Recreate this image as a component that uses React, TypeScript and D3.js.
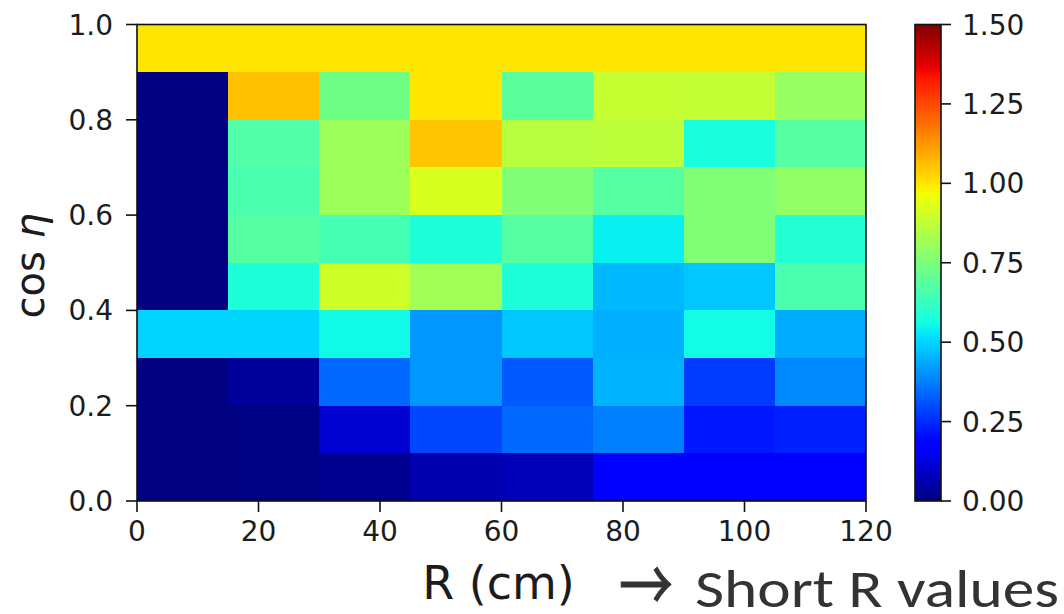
import React from "react";
import * as d3 from "d3";

// ---- data ----
const rEdges = [0, 15, 30, 45, 60, 75, 90, 105, 120];
const cosEdges = [0, 0.1, 0.2, 0.3, 0.4, 0.5, 0.6, 0.7, 0.8, 0.9, 1.0];
// rows from cos η = 0.0–0.1 (bottom) up to 0.9–1.0 (top)
const row0 = [0, 0.005, 0.02, 0.06, 0.075, 0.175, 0.175, 0.165];
const row1 = [0, 0.005, 0.105, 0.29, 0.34, 0.375, 0.22, 0.235];
const row2 = [0, 0.036, 0.34, 0.41, 0.32, 0.45, 0.275, 0.39];
const row3 = [0.5, 0.5, 0.555, 0.41, 0.48, 0.445, 0.56, 0.44];
const row4 = [0, 0.58, 0.9, 0.82, 0.58, 0.46, 0.48, 0.66];
const row5 = [0, 0.68, 0.65, 0.58, 0.68, 0.54, 0.76, 0.59];
const row6 = [0, 0.66, 0.81, 0.92, 0.76, 0.68, 0.76, 0.79];
const row7 = [0, 0.67, 0.81, 1.05, 0.86, 0.87, 0.57, 0.68];
const row8 = [0, 1.06, 0.73, 1.0, 0.69, 0.885, 0.88, 0.8];
const row9 = [1.0, 1.0, 1.0, 1.0, 1.0, 1.0, 1.0, 1.0];
const rows = [row0, row1, row2, row3, row4, row5, row6, row7, row8, row9];

const xTicks = [0, 20, 40, 60, 80, 100, 120];
const yTicks = [0.0, 0.2, 0.4, 0.6, 0.8, 1.0];
const cbTicks = [0.0, 0.25, 0.5, 0.75, 1.0, 1.25, 1.5];
const vMin = 0;
const vMax = 1.5;

// matplotlib "jet"
const jr = d3.scaleLinear().domain([0, 0.35, 0.66, 0.89, 1]).range([0, 0, 1, 1, 0.5]).clamp(true);
const jg = d3.scaleLinear().domain([0, 0.125, 0.375, 0.64, 0.91, 1]).range([0, 0, 1, 1, 0, 0]).clamp(true);
const jb = d3.scaleLinear().domain([0, 0.11, 0.34, 0.65, 1]).range([0.5, 1, 1, 0, 0]).clamp(true);
const jet = (t: number) =>
  d3.rgb(Math.round(jr(t) * 255), Math.round(jg(t) * 255), Math.round(jb(t) * 255)).formatHex();

export default function App() {
  const W = 1064, H = 614;
  const x = d3.scaleLinear().domain([0, 120]).range([137, 866]);
  const y = d3.scaleLinear().domain([0, 1]).range([501, 24.5]);
  const norm = d3.scaleLinear().domain([vMin, vMax]).range([0, 1]).clamp(true);
  const cbX0 = 915, cbX1 = 941;
  const cbY = d3.scaleLinear().domain([vMin, vMax]).range([501, 24.5]);
  const stops = d3.range(0, 1.0001, 0.01);
  const tickFont = "'DejaVu Sans', sans-serif";
  const tc = "#1c1c1c";

  return (
    <svg width={W} height={H} style={{ position: "absolute", left: 0, top: 0, background: "#fff" }}>
      <defs>
        <linearGradient id="jetg" x1="0" y1="1" x2="0" y2="0">
          {stops.map((s) => (
            <stop key={s} offset={s} stopColor={jet(s)} />
          ))}
        </linearGradient>
      </defs>
      <rect width={W} height={H} fill="#fff" />
      {/* heatmap cells */}
      <g shapeRendering="crispEdges">
        {rows.map((row, i) =>
          row.map((v, j) => (
            <rect
              key={`${i}-${j}`}
              x={x(rEdges[j])}
              y={y(cosEdges[i + 1])}
              width={x(rEdges[j + 1]) - x(rEdges[j])}
              height={y(cosEdges[i]) - y(cosEdges[i + 1])}
              fill={jet(norm(v))}
            />
          ))
        )}
      </g>
      {/* frame */}
      <rect x={x(0)} y={y(1)} width={x(120) - x(0)} height={y(0) - y(1)} fill="none" stroke="#111" strokeWidth={1.6} />
      {/* x ticks */}
      {xTicks.map((t) => (
        <g key={t}>
          <line x1={x(t)} x2={x(t)} y1={y(0)} y2={y(0) + 11} stroke="#111" strokeWidth={1.6} />
          <text x={x(t)} y={y(0) + 40} textAnchor="middle" fontFamily={tickFont} fontSize={28} fill={tc}>
            {String(t)}
          </text>
        </g>
      ))}
      {/* y ticks */}
      {yTicks.map((t) => (
        <g key={t}>
          <line x1={x(0) - 11} x2={x(0)} y1={y(t)} y2={y(t)} stroke="#111" strokeWidth={1.6} />
          <text x={x(0) - 24} y={y(t) + 10} textAnchor="end" fontFamily={tickFont} fontSize={28} fill={tc}>
            {t.toFixed(1)}
          </text>
        </g>
      ))}
      {/* axis labels */}
      <text
        transform={`translate(44, ${(y(0) + y(1)) / 2 + 3}) rotate(-90)`}
        textAnchor="middle"
        fontFamily={tickFont}
        fontSize={40}
        fill={tc}
      >
        cos <tspan fontStyle="italic">η</tspan>
      </text>
      <text x={(x(0) + x(120)) / 2 - 3} y={599} textAnchor="middle" fontFamily={tickFont} fontSize={46} fill={tc}>
        R (cm)
      </text>
      <text
        x={619}
        y={611}
        fontFamily="'Noto Sans CJK JP', 'Noto Sans CJK SC', sans-serif"
        fontSize={72}
        fill="#333"
        stroke="#333"
        strokeWidth={1}
        textLength={54}
        lengthAdjust="spacingAndGlyphs"
      >
        →
      </text>
      <text
        x={695}
        y={607}
        fontFamily="Carlito, 'Open Sans', sans-serif"
        fontSize={53}
        fill="#333"
        textLength={364}
        lengthAdjust="spacingAndGlyphs"
      >
        Short R values
      </text>
      {/* colorbar */}
      <rect x={cbX0} y={cbY(vMax)} width={cbX1 - cbX0} height={cbY(vMin) - cbY(vMax)} fill="url(#jetg)" stroke="#111" strokeWidth={1.6} />
      {cbTicks.map((t) => (
        <g key={t}>
          <line x1={cbX1} x2={cbX1 + 10} y1={cbY(t)} y2={cbY(t)} stroke="#111" strokeWidth={1.6} />
          <text x={cbX1 + 21} y={cbY(t) + 10} fontFamily={tickFont} fontSize={28} fill={tc}>
            {t.toFixed(2)}
          </text>
        </g>
      ))}
    </svg>
  );
}
